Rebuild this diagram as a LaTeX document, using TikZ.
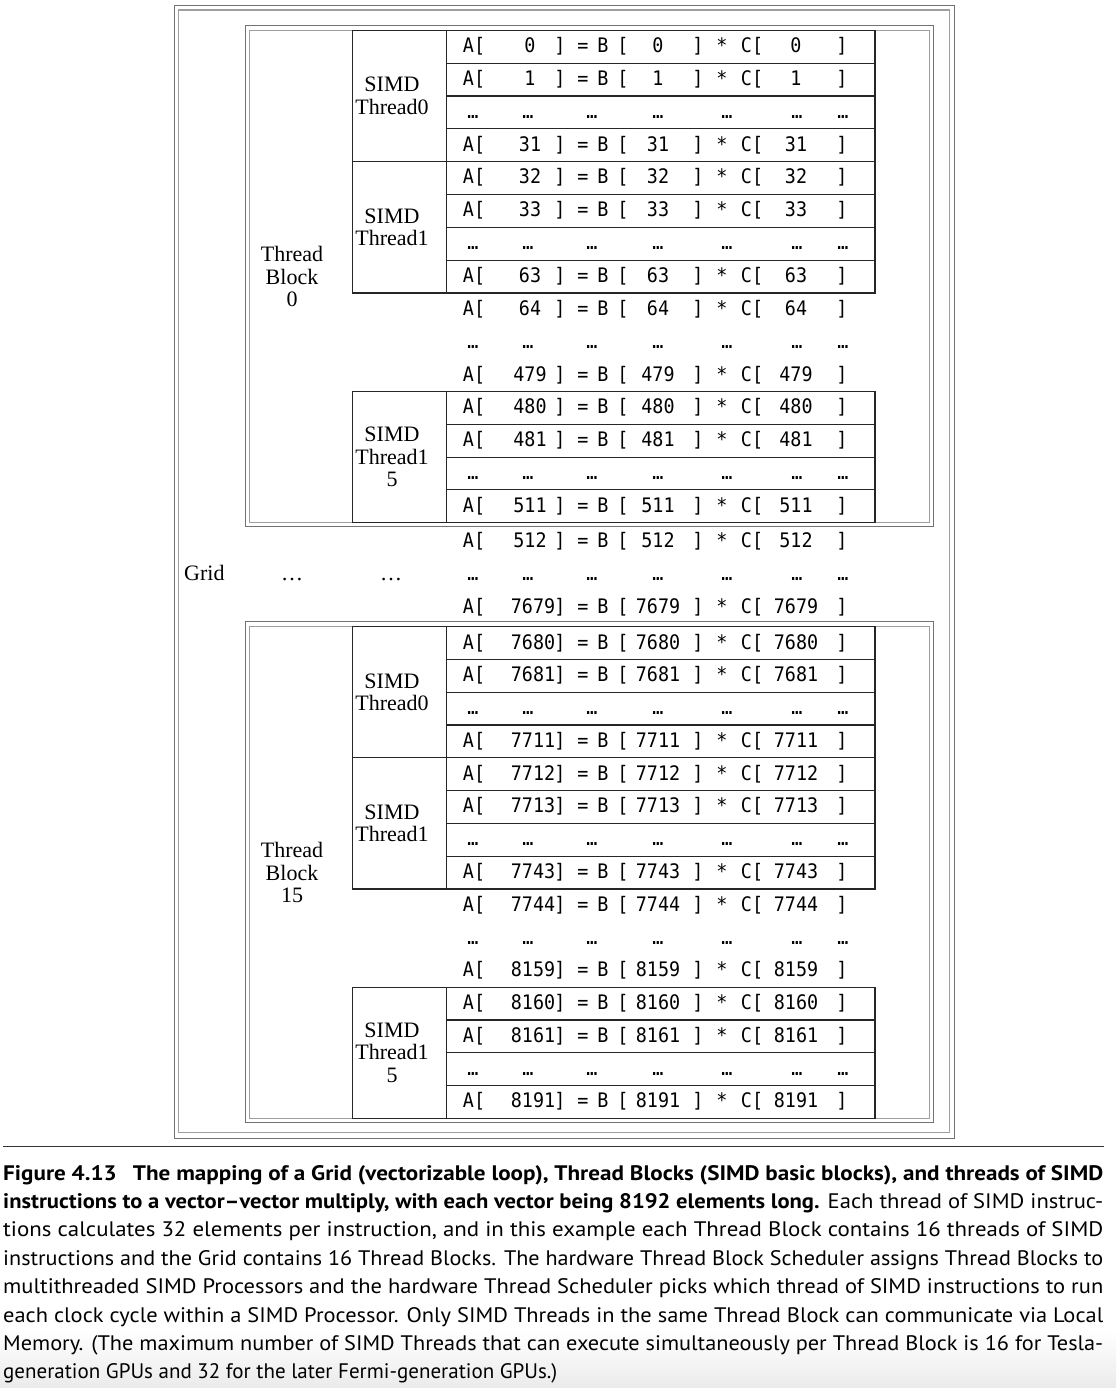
\documentclass[tikz,border=0pt]{standalone}
\usepackage{graphicx}
\usepackage{fontspec}
\setmainfont{Liberation Serif}
\newfontfamily\monof[FakeStretch=0.92]{DejaVu Sans Mono}
\newfontfamily\capf{PT Sans}
\usetikzlibrary{calc}

\tikzset{
  mono/.style={font=\monof\fontsize{20}{20}\selectfont, inner sep=0pt, anchor=base},
  lbl/.style={font=\fontsize{22}{22.5}\selectfont, align=center, inner sep=0pt},
  simdbox/.style={draw=black!85, line width=1.3pt},
  rowline/.style={draw=black!85, line width=1.1pt},
  outerln/.style={draw=black!55, line width=1.3pt},
  innerln/.style={draw=black!38, line width=1.3pt},
  capline/.style={font=\capf\fontsize{21}{21}\selectfont, anchor=base west, inner sep=0pt},
}

% #1 id, #2 baseline, #3 number, #4 x of first number, #5 x of first bracket
\newcommand\eqrow[5]{%
  \node[mono] (#1a)  at (474,#2) {A[};
  \node[mono] (#1n1) at (#4,#2) {#3};
  \node[mono] (#1b1) at (#5,#2) {]};
  \node[mono] (#1eq) at (583,#2) {=};
  \node[mono] (#1B)  at (603,#2) {B};
  \node[mono] (#1o2) at (623,#2) {[};
  \node[mono] (#1n2) at (658,#2) {#3};
  \node[mono] (#1b2) at (698,#2) {]};
  \node[mono] (#1st) at (722,#2) {*};
  \node[mono] (#1C)  at (752,#2) {C[};
  \node[mono] (#1n3) at (796,#2) {#3};
  \node[mono] (#1b3) at (842,#2) {]};
}
\newcommand\smallrow[3]{\eqrow{#1}{#2}{#3}{530}{560}}
\newcommand\bigrow[3]{\eqrow{#1}{#2}{#3}{533}{560}}
\newcommand\dotrow[2]{%
  \node[mono] (#1d1) at (473,#2) {…};
  \node[mono] (#1d2) at (528,#2) {…};
  \node[mono] (#1d3) at (592,#2) {…};
  \node[mono] (#1d4) at (658,#2) {…};
  \node[mono] (#1d5) at (727,#2) {…};
  \node[mono] (#1d6) at (797,#2) {…};
  \node[mono] (#1d7) at (843,#2) {…};
}
% SIMD box: #1 top, #2 bottom, #3 #4 #5 inner row lines
\newcommand\simdbox[5]{%
  \draw[simdbox] (352.7,#1) rectangle (875,#2);
  \draw[simdbox] (446.7,#1) -- (446.7,#2);
  \draw[rowline] (446.7,#3) -- (875,#3);
  \draw[rowline] (446.7,#4) -- (875,#4);
  \draw[rowline] (446.7,#5) -- (875,#5);
}

\begin{document}
\begin{tikzpicture}[x=1pt,y=-1pt]
\useasboundingbox (0,0) rectangle (1116,1388);
\fill[white] (0,0) rectangle (1116,1388);
\shade[top color=white, bottom color=black!8] (0,1330) rectangle (1116,1388);

% Grid box
\draw[outerln] (174.3,5.7) rectangle (954.3,1138.3);
\draw[innerln] (178.7,10) rectangle (949.3,1132.7);

% Thread Block 0 box
\draw[outerln] (245.3,25.7) rectangle (933.3,526.7);
\draw[innerln] (249.7,30.3) rectangle (929.3,522.7);
% Thread Block 15 box
\draw[outerln] (245.3,621.7) rectangle (933.3,1122.7);
\draw[innerln] (249.7,626.7) rectangle (929.3,1118.3);

% SIMD thread boxes, block 0
\simdbox{30.3}{161.62}{63.13}{95.96}{128.79}
\simdbox{161.62}{292.94}{194.45}{227.28}{260.11}
\simdbox{391.43}{522.75}{424.26}{457.09}{489.92}
% SIMD thread boxes, block 15
\simdbox{626.7}{757.78}{659.47}{692.24}{725.01}
\simdbox{757.78}{888.86}{790.55}{823.32}{856.09}
\simdbox{987.17}{1118.25}{1019.94}{1052.71}{1085.48}

% labels
\node[lbl] (tb0) at (292,276.5) {Thread\\Block\\0};
\node[lbl] (tb15) at (292,872.5) {Thread\\Block\\15};
\node[lbl] (s0a) at (392,96) {SIMD\\Thread0};
\node[lbl] (s1a) at (392,227.3) {SIMD\\Thread1};
\node[lbl] (s15a) at (392,457.1) {SIMD\\Thread1\\5};
\node[lbl] (s0b) at (392,692.2) {SIMD\\Thread0};
\node[lbl] (s1b) at (392,823.3) {SIMD\\Thread1};
\node[lbl] (s15b) at (392,1052.7) {SIMD\\Thread1\\5};
\node[font=\fontsize{22}{22}\selectfont, anchor=base west, inner sep=0pt] (grid) at (184,580) {Grid};
\node[font=\fontsize{22}{22}\selectfont, anchor=base, inner sep=0pt] (gd1) at (292,580) {…};
\node[font=\fontsize{22}{22}\selectfont, anchor=base, inner sep=0pt] (gd2) at (391,580) {…};

% rows
\smallrow{r0}{52.7}{0}
\smallrow{r1}{85.5}{1}
\dotrow{r2}{118.4}
\smallrow{r3}{151.2}{31}
\smallrow{r4}{184.0}{32}
\smallrow{r5}{216.9}{33}
\dotrow{r6}{249.7}
\smallrow{r7}{282.5}{63}
\smallrow{r8}{315.4}{64}
\dotrow{r9}{348.2}
\smallrow{r10}{381.0}{479}
\smallrow{r11}{413.9}{480}
\smallrow{r12}{446.7}{481}
\dotrow{r13}{479.5}
\smallrow{r14}{512.4}{511}
\smallrow{r15}{547}{512}
\dotrow{r16}{580}
\bigrow{r17}{613}{7679}
\bigrow{r18}{649.1}{7680}
\bigrow{r19}{681.9}{7681}
\dotrow{r20}{714.6}
\bigrow{r21}{747.4}{7711}
\bigrow{r22}{780.2}{7712}
\bigrow{r23}{812.9}{7713}
\dotrow{r24}{845.7}
\bigrow{r25}{878.5}{7743}
\bigrow{r26}{911.2}{7744}
\dotrow{r27}{944.0}
\bigrow{r28}{976.8}{8159}
\bigrow{r29}{1009.5}{8160}
\bigrow{r30}{1042.3}{8161}
\dotrow{r31}{1075.1}
\bigrow{r32}{1107.9}{8191}

% caption
\coordinate (rl) at (3,1146.7);
\coordinate (rr) at (1104,1146.7);
\draw[black!80, line width=1.3pt] (rl) -- (rr);
\node[capline] (c1) at (3,1180) {\resizebox{1100pt}{\height}{\bfseries Figure 4.13\hspace{0.45em} The mapping of a Grid (vectorizable loop), Thread Blocks (SIMD basic blocks), and threads of SIMD}};
\node[capline] (c2) at (3,1208.4) {\resizebox{1100pt}{\height}{\textbf{instructions to a vector–vector multiply, with each vector being 8192 elements long.} Each thread of SIMD instruc-}};
\node[capline] (c3) at (3,1236.8) {\resizebox{1100pt}{\height}{tions calculates 32 elements per instruction, and in this example each Thread Block contains 16 threads of SIMD}};
\node[capline] (c4) at (3,1265.2) {\resizebox{1100pt}{\height}{instructions and the Grid contains 16 Thread Blocks. The hardware Thread Block Scheduler assigns Thread Blocks to}};
\node[capline] (c5) at (3,1293.6) {\resizebox{1100pt}{\height}{multithreaded SIMD Processors and the hardware Thread Scheduler picks which thread of SIMD instructions to run}};
\node[capline] (c6) at (3,1322.0) {\resizebox{1100pt}{\height}{each clock cycle within a SIMD Processor. Only SIMD Threads in the same Thread Block can communicate via Local}};
\node[capline] (c7) at (3,1350.4) {\resizebox{1100pt}{\height}{Memory. (The maximum number of SIMD Threads that can execute simultaneously per Thread Block is 16 for Tesla-}};
\node[capline] (c8) at (3,1378.8) {generation GPUs and 32 for the later Fermi-generation GPUs.)};
\end{tikzpicture}
\end{document}
